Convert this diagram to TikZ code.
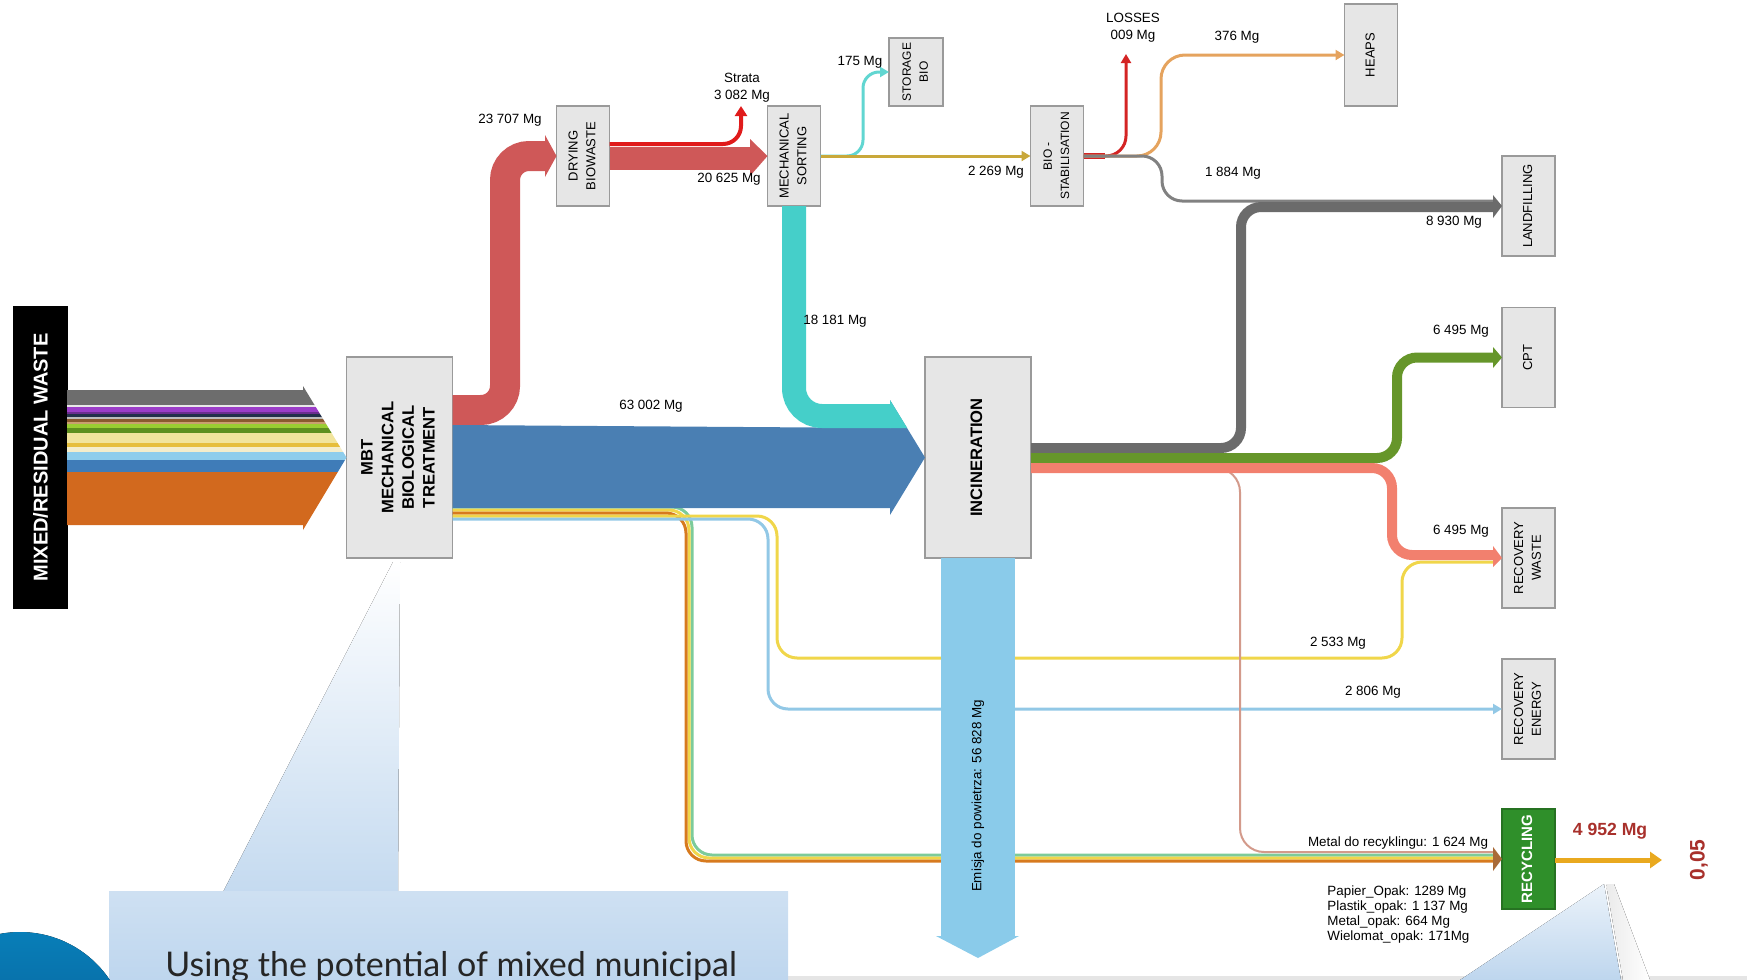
\documentclass[tikz,border=0pt]{standalone}
\usepackage{fontspec}
\setmainfont{Liberation Sans}
\newfontfamily\callfont{Lato}
\usepackage{graphicx}
\usetikzlibrary{arrows.meta}

\definecolor{boxfill}{HTML}{E6E6E6}
\definecolor{boxline}{HTML}{9A9A9A}
\definecolor{redflow}{HTML}{CF5858}
\definecolor{strata}{HTML}{E01B1B}
\definecolor{blueflow}{HTML}{4A7FB3}
\definecolor{cyanflow}{HTML}{45CFC9}
\definecolor{emisja}{HTML}{8ACBEA}
\definecolor{grayflow}{HTML}{6B6B6B}
\definecolor{greenflow}{HTML}{66962A}
\definecolor{salmonflow}{HTML}{F2806E}
\definecolor{metal}{HTML}{D39A8B}
\definecolor{yel}{HTML}{F0D64A}
\definecolor{ltblue}{HTML}{92C8E6}
\definecolor{bundgreen}{HTML}{7CCB9A}
\definecolor{bundorange}{HTML}{D77A1E}
\definecolor{goldflow}{HTML}{E9A91F}
\definecolor{sortline}{HTML}{C9A83A}
\definecolor{heapline}{HTML}{E5A35E}
\definecolor{loss}{HTML}{D42424}
\definecolor{recgreen}{HTML}{2F8F2A}
\definecolor{darkred}{HTML}{A8302B}
\definecolor{callblue}{HTML}{BED6EE}
\definecolor{circblue}{HTML}{0A5EA6}

\newcommand{\vtext}[1]{\rotatebox{90}{\begin{tabular}{@{}c@{}}#1\end{tabular}}}

\begin{document}
\begin{tikzpicture}[x=0.5pt, y=-0.5pt,
  stage/.style={draw=boxline, fill=boxfill, line width=0.6pt, inner sep=0pt, outer sep=0pt,
    minimum width=26.5pt, minimum height=50pt, font=\fontsize{6.5}{8.8}\selectfont},
  bigstage/.style={stage, minimum width=53pt, minimum height=100.5pt, font=\fontsize{8.3}{10.3}\bfseries},
  mg/.style={font=\fontsize{6.7}{8.4}\selectfont, inner sep=0pt},
  flowtip/.style={-{Triangle[length=4.5pt, width=5pt]}},
]
\useasboundingbox (0,0) rectangle (1747,980);

% Stationen
\node[stage, fill=black, draw=black, minimum height=150.5pt, text=white,
  font=\fontsize{10}{12}\bfseries] (mixed) at (40.5,457.5) {\rotatebox{90}{MIXED/RESIDUAL WASTE}};
\node[bigstage] (mbt) at (399.5,457.5) {\vtext{MBT\\MECHANICAL\\BIOLOGICAL\\TREATMENT}};
\node[bigstage] (inc) at (978,457.5) {\vtext{INCINERATION}};
\node[stage] (dry) at (583,156) {\vtext{DRYING\\BIOWASTE}};
\node[stage] (sort) at (794,156) {\vtext{MECHANICAL\\SORTING}};
\node[stage, minimum height=34pt, minimum width=27pt, font=\fontsize{6}{8.4}\selectfont] (store) at (916,72) {\vtext{STORAGE\\BIO}};
\node[stage, font=\fontsize{6}{8.6}\selectfont] (stab) at (1057,156) {\vtext{BIO -\\STABILISATION}};
\node[stage, minimum height=51pt] (heaps) at (1371,55) {\vtext{HEAPS}};
\node[stage] (land) at (1528.5,206) {\vtext{LANDFILLING}};
\node[stage] (cpt) at (1528.5,357.5) {\vtext{CPT}};
\node[stage] (recw) at (1528.5,558) {\vtext{RECOVERY\\WASTE}};
\node[stage] (rece) at (1528.5,709) {\vtext{RECOVERY\\ENERGY}};
\node[stage, fill=recgreen, draw=recgreen!80!black, text=white,
  font=\fontsize{7.5}{9}\bfseries] (recy) at (1528.5,859) {\vtext{RECYCLING}};

% Eingang (Streifen)
\begin{scope}
  \clip (mixed.east |- 0,390) -- (303,390) -- (303,386) -- (mbt.west) -- (303,530) -- (303,525) -- (mixed.east |- 0,525) -- cycle;
  \foreach \ya/\yb/\c in {380/405/6D6D6D, 405/407/E8E8E8, 407/412/9B3DC8, 412/414/6B2E8F,
      414/417/22304A, 417/419/BDBDBD, 419/422/8A5A2E, 422/424/C9A070, 424/428/9ACD32,
      428/433/5E8F1E, 433/443/F1E49C, 443/447/E6BE3C, 447/452/F4EDCB, 452/460/8ECDEC,
      460/472/3F7CB8, 472/540/D2691E} {
    \definecolor{stripe}{HTML}{\c}
    \fill[stripe] (60,\ya) rectangle (350,\yb);
  }
\end{scope}

% duenne Linien aus MBT
\foreach \c/\y/\x in {bundgreen/507/692, yel/510/689, bundorange/513/686}
  \draw[\c, line width=1.5pt, rounded corners=10pt] (mbt.east |- 0,\y) -- (\x,\y) -- (\x,\y+348) -- (1494,\y+348);
\draw[yel, line width=1.5pt, rounded corners=10pt] (mbt.east |- 0,516) -- (777,516) -- (777,658) -- (1402,658) -- (1402,562) -- (1494,562);
\draw[ltblue, line width=1.5pt, rounded corners=10pt, flowtip] (mbt.east |- 0,519) -- (768,519) -- (768,709) -- (rece.west);

% MBT -> Trocknung
\draw[redflow, line width=15pt, rounded corners=12pt] (mbt.east |- 0,410) -- (505,410) -- (505,156) -- (546,156);
\fill[redflow] (545,135) -- (dry.west) -- (545,177) -- cycle;

% MBT -> Verbrennung
\fill[blueflow] (mbt.east |- 0,425) -- (890,428) -- (890,508) -- (mbt.east |- 0,508) -- cycle;
\fill[blueflow] (890,400) -- (inc.west) -- (890,515) -- cycle;

% Trocknung -> Sortierung
\fill[redflow] (dry.east |- 0,147) rectangle (751,170);
\fill[redflow] (750,139) -- (sort.west) -- (750,176) -- cycle;
\draw[strata, line width=2pt, rounded corners=9pt, -{Triangle[length=5pt, width=6pt]}] (dry.east |- 0,144) -- (741,144) -- (741,106);

% Sortierung -> Verbrennung
\draw[cyanflow, line width=12pt, rounded corners=14pt] (sort.south) -- (794,416) -- (890.5,416);
\fill[cyanflow] (890,400) -- (907.2,428) -- (890,428) -- cycle;

% Sortierung -> Lager, Stabilisierung
\draw[cyanflow!85!white, line width=1.5pt, rounded corners=8pt, flowtip] (sort.east) -- (863,156) -- (863,72) -- (store.west);
\draw[sortline, line width=1.5pt, flowtip] (sort.east) -- (stab.west);

% Stabilisierung -> Verluste, Halden, Deponie
\coordinate (lossend) at (1126,54);
\draw[loss, line width=3pt] (stab.east) -- (1105,156);
\draw[loss, line width=1.5pt, rounded corners=10pt, flowtip] (stab.east) -- (1126,156) -- (lossend);
\draw[heapline, line width=1.5pt, rounded corners=12pt, flowtip] (stab.east) -- (1161,156) -- (1161,55) -- (heaps.west);
\draw[grayflow!85!white, line width=1.5pt, rounded corners=10pt] (stab.east) -- (1162,156) -- (1162,201) -- (1494,201);

% Verbrennung -> Ausgaenge
\draw[grayflow, line width=5pt, rounded corners=10pt] (inc.east |- 0,448) -- (1241,448) -- (1241,207) -- (1494,207);
\fill[grayflow] (1493,195) -- (land.west) -- (1493,218) -- cycle;
\draw[greenflow, line width=5pt, rounded corners=10pt] (inc.east |- 0,458) -- (1397,458) -- (1397,357.5) -- (1494,357.5);
\fill[greenflow] (1493,347) -- (cpt.west) -- (1493,368) -- cycle;
\draw[metal, line width=1pt, rounded corners=12pt] (inc.east |- 0,468) -- (1240,468) -- (1240,852) -- (1494,852);
\draw[salmonflow, line width=5pt, rounded corners=10pt] (inc.east |- 0,468) -- (1392,468) -- (1392,555) -- (1494,555);
\fill[salmonflow] (1493,546) -- (recw.west) -- (1493,567) -- cycle;
\fill[black!30!bundorange!70!metal] (1493,847) -- (recy.west) -- (1493,871) -- cycle;

% Emission
\fill[emisja] ([xshift=-18.5pt]inc.south) rectangle (1015,937);
\fill[emisja] (936,936) -- (978,958) -- (1019,936) -- cycle;
\node[mg, rotate=90] (emis) at (978,796) {Emisja do powietrza: 56 828 Mg};

% Recycling -> Ergebnis
\coordinate (outend) at (1662,860);
\draw[goldflow, line width=2.5pt, -{Triangle[length=6pt, width=8pt]}] (recy.east |- 0,860) -- (outend);

% Werte
\node[mg] (l23707) at (510,120) {23 707 Mg};
\node[mg, align=center] (lstrata) at (742,88) {Strata\\3 082 Mg};
\node[mg] (l175) at (860,62) {175 Mg};
\node[mg] (l20625) at (729,179) {20 625 Mg};
\node[mg] (l2269) at (996,172) {2 269 Mg};
\node[mg, align=center] (lloss) at (1133,28) {LOSSES\\009 Mg};
\node[mg] (l376) at (1237,37) {376 Mg};
\node[mg] (l1884) at (1233,173) {1 884 Mg};
\node[mg] (l8930) at (1454,222) {8 930 Mg};
\node[mg] (l18181) at (835,321) {18 181 Mg};
\node[mg] (l63002) at (651,406) {63 002 Mg};
\node[mg] (l6495a) at (1461,331) {6 495 Mg};
\node[mg] (l6495b) at (1461,531) {6 495 Mg};
\node[mg] (l2533) at (1338,643) {2 533 Mg};
\node[mg] (l2806) at (1373,692) {2 806 Mg};
\node[mg] (lmetal) at (1398,843) {Metal do recyklingu: 1 624 Mg};
\node[mg, align=left, anchor=north west, font=\fontsize{6.7}{7.5}\selectfont] (lopak) at (1327,885)
  {Papier\_Opak: 1289 Mg\\Plastik\_opak: 1 137 Mg\\Metal\_opak: 664 Mg\\Wielomat\_opak: 171Mg};
\node[font=\fontsize{8.8}{10}\bfseries, text=darkred, inner sep=0pt] (l4952) at (1610,831) {4 952 Mg};
\node[rotate=90, font=\fontsize{10.5}{12}\bfseries, text=darkred, inner sep=0pt] (ratio) at (1699,860) {0,05};

% Sprechblasen unten
\fill[black!10] (788,976) rectangle (1747,980);
\fill[top color=white, bottom color=callblue!90] (393,562) -- (400,562) -- (398,892) -- (223,892) -- cycle;
\fill[top color=callblue!75, bottom color=callblue] (109,891) rectangle (788,980);
\node[font=\callfont\fontsize{17}{20}\selectfont, anchor=base west, inner sep=0pt, text=black!85]
  (calltext) at (165,976) {Using the potential of mixed municipal};
\fill[left color=black!8, right color=white] (1606,884) -- (1623,980) -- (1650,980) -- (1614,884) -- cycle;
\fill[top color=callblue!30, bottom color=callblue] (1604,884) -- (1460,980) -- (1621,980) -- cycle;
\begin{scope}
  \clip (0,0) rectangle (1747,980);
  \fill[top color=circblue!80!cyan, bottom color=circblue!80!black] (20,1040) circle[radius=54pt];
\end{scope}

\end{tikzpicture}
\end{document}
